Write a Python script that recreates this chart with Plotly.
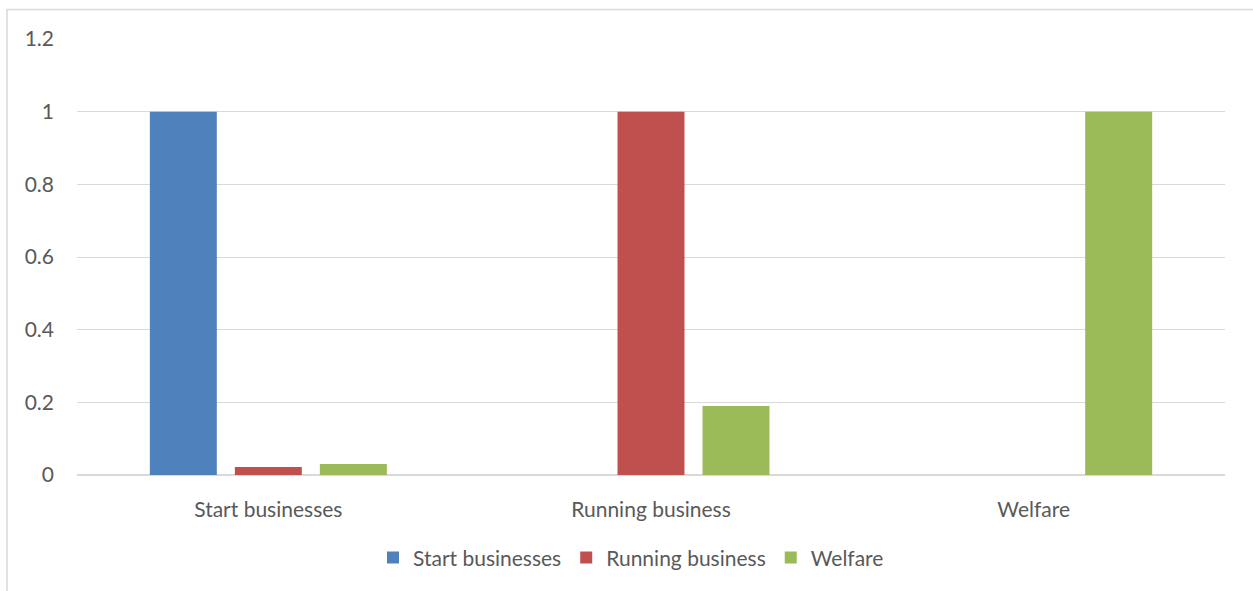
import plotly.graph_objects as go

categories = ["Start businesses", "Running business", "Welfare"]
series_names = ["Start businesses", "Running business", "Welfare"]
start_vals = [1.0, 0.0, 0.0]
running_vals = [0.022, 1.0, 0.0]
welfare_vals = [0.03, 0.19, 1.0]
colors = ["#4f81bd", "#c0504d", "#9bbb59"]
tick_vals = [0, 0.2, 0.4, 0.6, 0.8, 1, 1.2]
tick_text = ["0", "0.2", "0.4", "0.6", "0.8", "1", "1.2"]

font_family = "Lato, Carlito, Calibri, sans-serif"
txt_color = "#595959"

fig = go.Figure()
for name, vals, c in zip(series_names, [start_vals, running_vals, welfare_vals], colors):
    fig.add_trace(go.Bar(name=name, x=categories, y=vals, marker=dict(color=c, line=dict(width=0))))

fig.update_layout(
    width=1253, height=591,
    margin=dict(l=77, r=28, t=39, b=116),
    paper_bgcolor="white", plot_bgcolor="white",
    barmode="group", bargap=0.3336, bargroupgap=0.212,
    font=dict(family=font_family, size=21, color=txt_color),
    showlegend=True,
    legend=dict(orientation="h", x=0.5 - 20 / 1148, xanchor="center", y=-0.19, yanchor="middle",
                font=dict(size=21, color=txt_color), itemwidth=30, traceorder="normal"),
    xaxis=dict(showgrid=False, showline=False, zeroline=False, ticks="",
               tickfont=dict(size=21, color=txt_color), ticklabelstandoff=20),
    yaxis=dict(range=[0, 1.2], tickvals=tick_vals, ticktext=tick_text,
               showgrid=True, gridcolor="#d9d9d9", gridwidth=1,
               zeroline=True, zerolinecolor="#d9d9d9", zerolinewidth=1.5,
               showline=False, ticks="", ticklen=0, tickfont=dict(size=21, color=txt_color),
               automargin=False, ticklabelstandoff=22),
    shapes=[dict(type="rect", xref="paper", yref="paper",
                 x0=(7 - 77) / 1148, x1=(1262 - 77) / 1148,
                 y0=(475 - 600) / 436, y1=(475 - 9.5) / 436,
                 line=dict(color="#d9d9d9", width=1.5), fillcolor="rgba(0,0,0,0)", layer="below")],
)
fig.write_html("out.html")
